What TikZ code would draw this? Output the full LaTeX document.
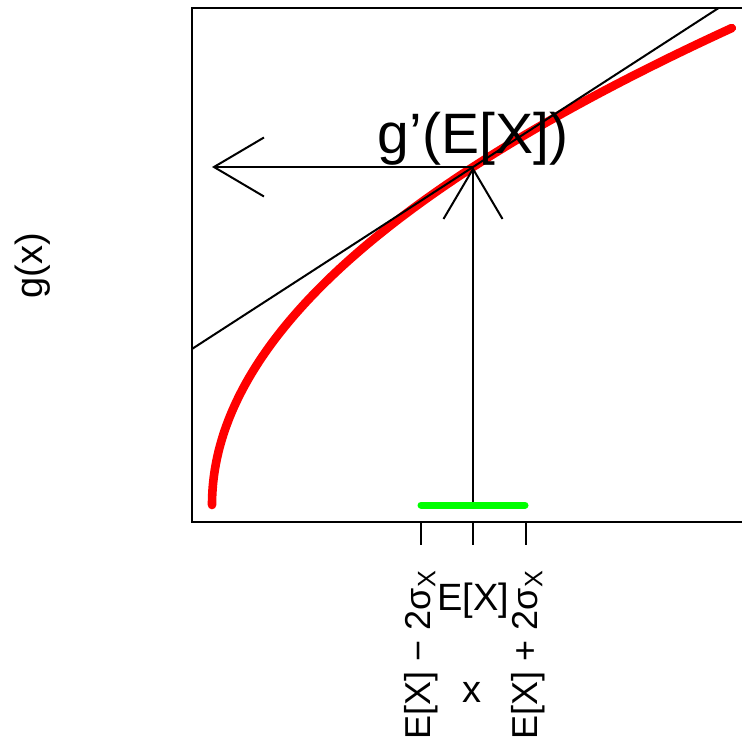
\documentclass[tikz,border=0pt]{standalone}
\usepackage{fontspec}
\setmainfont{Liberation Sans}
\usetikzlibrary{arrows.meta}
\definecolor{curvered}{RGB}{255,0,0}
\definecolor{bandgreen}{RGB}{0,255,0}

\begin{document}
\begin{tikzpicture}[
    x=0.5pt,
    y=0.5pt,
    line width=1pt,
    barb/.style={-{Straight Barb[length=25pt,width=29.5pt]}},
    gfun/.style={curvered,line width=4.3pt,line cap=round},
    band/.style={bandgreen,line width=3.5pt,line cap=round},
    ticklabel/.style={font=\fontsize{19}{22}\selectfont},
    sideways/.style={font=\fontsize{18}{22}\selectfont,rotate=90,anchor=base east},
    every node/.style={inner sep=0pt}
]
  \useasboundingbox (0,0) rectangle (742,741);
  \clip (0,0) rectangle (742,741);

  % plot frame, open to the right
  \draw (760,219) -- (192,219) -- (192,733) -- (760,733);

  \coordinate (mean) at (473,574);
  \coordinate (meanaxis) at (473,236);
  \coordinate (lefttip) at (212,574);
  \coordinate (tanlo) at (192,392.05);
  \coordinate (tanhi) at (718.6,733);
  \coordinate (bandlo) at (421,236);
  \coordinate (bandhi) at (525,236);

  % g(x) and its tangent at E[X]
  \draw[gfun] plot[domain=0:22.8,samples=150,variable=\t]
    ({212+\t*\t},{236+20.92*\t});
  \draw (tanlo) -- (tanhi);

  \draw[barb] (meanaxis) -- (mean);
  \draw[barb] (mean) -- (lefttip);
  \draw[band] (bandlo) -- (bandhi);

  % axis ticks
  \foreach \tx in {421,473,526}
    \draw (\tx,219) -- (\tx,196);

  \node[font=\fontsize{28.5}{34}\selectfont,anchor=base] (gprime) at (473,588) {g’(E[X])};

  \node[sideways] (lowlab) at (430,172) {E[X] − 2σ\textsubscript{X}};
  \node[ticklabel,anchor=base] (meanlab) at (473,131) {E[X]};
  \node[sideways] (highlab) at (537,172) {E[X] + 2σ\textsubscript{X}};

  \node[ticklabel,anchor=base] (xlab) at (472,39) {x};
  \node[ticklabel,rotate=90,anchor=base] (ylab) at (42,475) {g(x)};
\end{tikzpicture}
\end{document}
